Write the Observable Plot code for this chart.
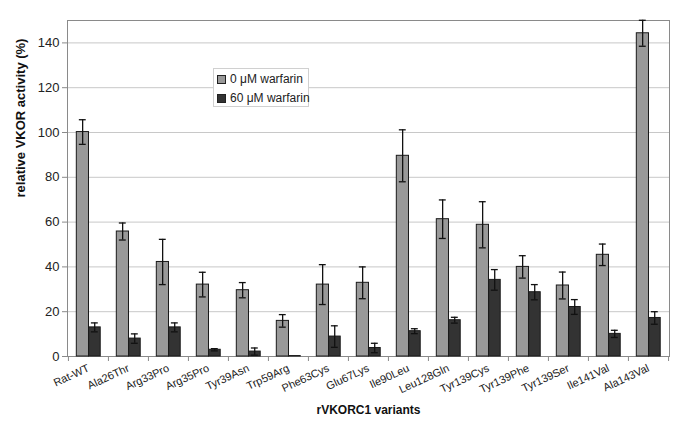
<!DOCTYPE html>
<html>
<head>
<meta charset="utf-8">
<script src="https://cdn.jsdelivr.net/npm/d3@7"></script>
<script src="https://cdn.jsdelivr.net/npm/@observablehq/plot@0.6"></script>
<style>
  body { margin: 0; background: #fff; }
  #wrap { position: relative; width: 685px; height: 436px; font-family: "Liberation Sans", Arial, sans-serif; }
  #legend { position: absolute; left: 213px; top: 68px; width: 94px; height: 37px; border: 1px solid #d0d0d0; background: #fff; font-size: 12px; color: #222; }
  #legend .row { position: absolute; left: 3px; display: flex; align-items: center; white-space: nowrap; }
  #legend .sw { width: 7px; height: 7px; border: 1px solid #222; margin-right: 4px; }
</style>
</head>
<body>
<div id="wrap"><div id="legend"></div></div>
<script>
const categories = ["Rat-WT","Ala26Thr","Arg33Pro","Arg35Pro","Tyr39Asn","Trp59Arg","Phe63Cys","Glu67Lys","Ile90Leu","Leu128Gln","Tyr139Cys","Tyr139Phe","Tyr139Ser","Ile141Val","Ala143Val"];
const series = ["0 μM warfarin", "60 μM warfarin"];
const values0 = [100.2, 55.8, 42.2, 32.1, 29.6, 15.9, 32.1, 32.9, 89.6, 61.3, 58.8, 40.0, 31.7, 45.4, 144.3];
const errors0 = [5.5, 3.8, 10.1, 5.5, 3.4, 2.8, 8.9, 7.1, 11.6, 8.6, 10.3, 5.0, 6.0, 4.8, 5.8];
const values1 = [13.0, 8.0, 13.0, 3.0, 2.2, 0.2, 8.9, 3.8, 11.3, 16.2, 34.2, 28.7, 22.1, 10.1, 17.2];
const errors1 = [2.0, 2.1, 2.0, 0.5, 1.6, 0, 4.8, 2.1, 1.1, 1.3, 4.6, 3.4, 3.3, 1.6, 2.8];
const yTicks = [0, 20, 40, 60, 80, 100, 120, 140];
const colors = ["#999999", "#333333"];

const W = 685, H = 436, mL = 67, mR = 16, mT = 20, mB = 80;
const bw = (W - mL - mR) / categories.length;

const d0 = categories.map((c, i) => ({cat: c, v: values0[i], e: errors0[i]}));
const d1 = categories.map((c, i) => ({cat: c, v: values1[i], e: errors1[i]}));
const e1 = d1.filter(d => d.e > 0);

const font = "Liberation Sans, Arial, sans-serif";

const chart = Plot.plot({
  width: W, height: H,
  marginLeft: mL, marginRight: mR, marginTop: mT, marginBottom: mB,
  style: {fontFamily: font, fontSize: "12px", color: "#222", background: "#fff"},
  x: {type: "band", domain: categories, padding: 0, label: null},
  y: {domain: [0, 150], label: null},
  marks: [
    Plot.ruleY(yTicks.slice(1), {stroke: "#c8c8c8", strokeWidth: 1}),
    Plot.frame({stroke: "#8a8a8a", strokeWidth: 1}),
    Plot.barY(d0, {x: "cat", y: "v", fill: colors[0], stroke: "#1a1a1a", strokeWidth: 1, insetLeft: bw * 0.207, insetRight: bw * 0.486}),
    Plot.barY(d1, {x: "cat", y: "v", fill: colors[1], stroke: "#1a1a1a", strokeWidth: 1, insetLeft: bw * 0.514, insetRight: bw * 0.194}),
    Plot.ruleX(d0, {x: "cat", y1: d => d.v - d.e, y2: d => d.v + d.e, dx: -bw * 0.146, stroke: "#111", strokeWidth: 1.3}),
    Plot.tickY(d0, {x: "cat", y: d => d.v + d.e, insetLeft: bw * 0.27, insetRight: bw * 0.555, stroke: "#111", strokeWidth: 1.3}),
    Plot.tickY(d0, {x: "cat", y: d => d.v - d.e, insetLeft: bw * 0.27, insetRight: bw * 0.555, stroke: "#111", strokeWidth: 1.3}),
    Plot.ruleX(e1, {x: "cat", y1: d => d.v - d.e, y2: d => d.v + d.e, dx: bw * 0.155, stroke: "#111", strokeWidth: 1.3}),
    Plot.tickY(e1, {x: "cat", y: d => d.v + d.e, insetLeft: bw * 0.57, insetRight: bw * 0.255, stroke: "#111", strokeWidth: 1.3}),
    Plot.tickY(e1, {x: "cat", y: d => d.v - d.e, insetLeft: bw * 0.57, insetRight: bw * 0.255, stroke: "#111", strokeWidth: 1.3}),
    Plot.axisY({ticks: yTicks, tickSize: 5, tickPadding: 3, stroke: "#8a8a8a", fontSize: 13, label: null}),
    Plot.axisX({tickSize: 5, dx: -bw / 2, tickFormat: () => "", stroke: "#8a8a8a", label: null}),
    Plot.axisX({ticks: categories.slice(-1), tickSize: 5, dx: bw / 2, tickFormat: () => "", stroke: "#8a8a8a", label: null}),
    Plot.axisX({tickSize: 0, tickPadding: 11, tickRotate: -25, fontSize: 11, label: null}),
    Plot.text(["rVKORC1 variants"], {frameAnchor: "bottom", dy: 57, fontWeight: "bold", fontSize: 12, fill: "#111"}),
    Plot.text(["relative VKOR activity (%)"], {frameAnchor: "left", dx: -47, dy: 9, rotate: -90, fontWeight: "bold", fontSize: 13, fill: "#111"})
  ]
});
document.getElementById("wrap").prepend(chart);

const legend = document.getElementById("legend");
series.forEach((s, i) => {
  const row = document.createElement("div");
  row.className = "row";
  row.style.top = (3 + i * 19) + "px";
  const sw = document.createElement("div");
  sw.className = "sw";
  sw.style.background = colors[i];
  const t = document.createElement("span");
  t.textContent = s;
  row.append(sw, t);
  legend.append(row);
});
</script>
</body>
</html>
